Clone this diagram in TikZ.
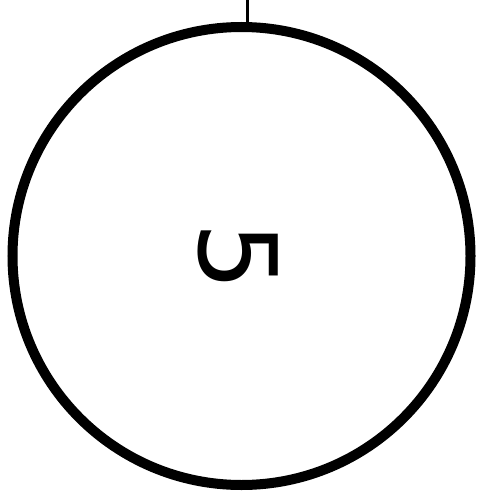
\documentclass[tikz,border=0pt]{standalone}
\usepackage{fontspec}
\setmainfont{DejaVu Sans}
\usetikzlibrary{positioning}

\begin{document}
\begin{tikzpicture}[x=1pt,y=-1pt,
    ring/.style={circle,draw,line width=10pt,minimum size=458pt,inner sep=0pt},
    digit/.style={font=\fontsize{108}{108}\selectfont,rotate=-90,inner sep=0pt}]
    \useasboundingbox (0,0) rectangle (476,497);
    \node[ring] (dial) at (241.5,256) {};
    \node[digit] (five) at (238,257) {5};
    \coordinate (tick) at (247,0);
    \draw[line width=3pt] (tick) -- (tick |- dial.north);
\end{tikzpicture}
\end{document}
